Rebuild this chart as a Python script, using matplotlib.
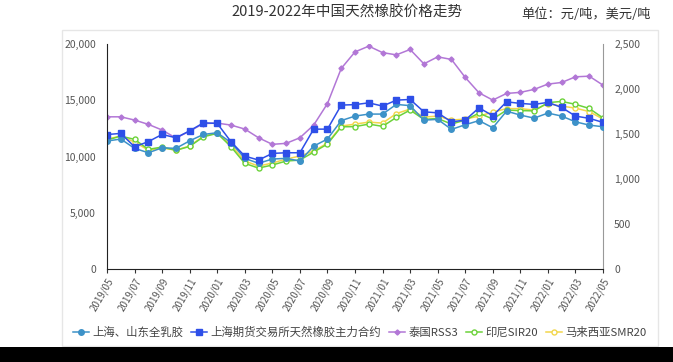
import matplotlib
matplotlib.use("Agg")
import matplotlib.pyplot as plt
from matplotlib.patches import Rectangle
import numpy as np

plt.rcParams['font.family'] = ['Noto Sans CJK SC', 'DejaVu Sans']

# ------------------ DATA ------------------
months = [f"{y}/{m:02d}" for y in range(2019, 2023) for m in range(1, 13)]
months = months[months.index("2019/05"):months.index("2022/05") + 1]

# 上海、山东全乳胶 (元/吨, left axis)
sh_sd = [11380, 11560, 10730, 10340, 10780, 10730, 11400, 11970, 12120, 11240,
         9840, 9400, 9780, 9840, 9600, 10930, 11560, 13200, 13600, 13780,
         13780, 14640, 14530, 13240, 13310, 12420, 12830, 13200, 12560, 14040,
         13690, 13420, 13870, 13600, 13090, 12800, 12650]
# 上海期货交易所天然橡胶主力合约 (元/吨, left axis)
shfe = [11960, 12060, 10870, 11330, 11970, 11670, 12290, 13000, 12950, 11320,
        10040, 9690, 10280, 10340, 10340, 12440, 12440, 14580, 14620, 14780,
        14490, 15020, 15080, 13980, 13890, 13090, 13240, 14340, 13630, 14870,
        14730, 14640, 14820, 14370, 13600, 13400, 13040]
# 泰国RSS3 (美元/吨, right axis)
rss3 = [1692, 1692, 1656, 1608, 1545, 1456, 1533, 1617, 1622, 1600,
        1556, 1459, 1386, 1397, 1459, 1600, 1839, 2230, 2414, 2478,
        2406, 2381, 2441, 2281, 2359, 2330, 2130, 1959, 1878, 1952,
        1964, 1997, 2056, 2074, 2137, 2144, 2044]
# 印尼SIR20 (美元/吨, right axis)
sir20 = [1433, 1478, 1441, 1330, 1356, 1319, 1363, 1470, 1508, 1359,
         1174, 1122, 1156, 1200, 1211, 1300, 1389, 1581, 1583, 1611,
         1586, 1685, 1767, 1663, 1674, 1611, 1656, 1733, 1667, 1767,
         1761, 1758, 1850, 1863, 1831, 1785, 1680]
# 马来西亚SMR20 (美元/吨, right axis)
smr20 = [1444, 1478, 1411, 1322, 1344, 1322, 1367, 1478, 1511, 1378,
         1200, 1144, 1178, 1222, 1256, 1311, 1400, 1589, 1611, 1633,
         1622, 1728, 1778, 1689, 1700, 1656, 1667, 1700, 1744, 1783,
         1783, 1767, 1839, 1811, 1789, 1750, 1667]

x = np.arange(len(months))

# ------------------ PLOT ------------------
fig = plt.figure(figsize=(6.73, 3.62), dpi=100)
fig.patches.append(Rectangle((0.092, 0.045), 0.885, 0.873, transform=fig.transFigure,
                             fill=False, edgecolor='#e6e6e6', linewidth=1.0))
fig.patches.append(Rectangle((0, 0), 1, 0.042, transform=fig.transFigure,
                             facecolor='black', edgecolor='none'))

ax = fig.add_axes([0.159, 0.257, 0.737, 0.621])
ax2 = ax.twinx()
ax.set_zorder(ax2.get_zorder() + 1)
ax.patch.set_visible(False)

lw = 1.1
l3, = ax2.plot(x, rss3, color='#b277d6', marker='D', markersize=2.6, lw=lw, label='泰国RSS3')
l5, = ax2.plot(x, smr20, color='#f2d64b', marker='o', markersize=3.6, mfc='white', lw=lw,
               label='马来西亚SMR20')
l4, = ax2.plot(x, sir20, color='#6cd23a', marker='o', markersize=3.6, mfc='white', lw=lw,
               label='印尼SIR20')
l1, = ax.plot(x, sh_sd, color='#3d92c8', marker='o', markersize=4, lw=lw, label='上海、山东全乳胶')
l2, = ax.plot(x, shfe, color='#2e4fe8', marker='s', markersize=4, lw=lw,
              label='上海期货交易所天然橡胶主力合约')

ax.set_xlim(0, len(months) - 1)
ax.set_ylim(0, 20000)
ax2.set_ylim(0, 2500)
ax.set_yticks(range(0, 20001, 5000))
ax.set_yticklabels([f"{v:,}" for v in range(0, 20001, 5000)])
ax2.set_yticks(range(0, 2501, 500))
ax2.set_yticklabels([f"{v:,}" for v in range(0, 2501, 500)])

ax.set_xticks(x[::2])
ax.set_xticklabels(months[::2], rotation=60, ha='right', rotation_mode='anchor',
                   fontsize=7, color='#555555')
ax.tick_params(axis='x', length=3, width=0.8, color='#333333', pad=2)
ax.tick_params(axis='y', length=0, labelsize=7.5, labelcolor='#555555', pad=8)
ax2.tick_params(axis='y', length=0, labelsize=7.5, labelcolor='#555555', pad=8)

for a in (ax, ax2):
    a.spines['top'].set_visible(False)
ax.spines['right'].set_visible(False)
ax2.spines['left'].set_visible(False)
ax2.spines['bottom'].set_visible(False)
ax.spines['left'].set_color('#222222')
ax.spines['bottom'].set_color('#222222')
ax2.spines['right'].set_color('#999999')

fig.text(0.515, 0.965, '2019-2022年中国天然橡胶价格走势', ha='center', va='center',
         fontsize=10.5, color='#333333')
fig.text(0.967, 0.96, '单位：元/吨，美元/吨', ha='right', va='center',
         fontsize=9.5, color='#333333')

fig.legend(handles=[l1, l2, l3, l4, l5], loc='center', bbox_to_anchor=(0.535, 0.083),
           ncol=5, frameon=False, fontsize=8.2, handlelength=1.4, handletextpad=0.3,
           columnspacing=0.7, labelcolor='#444444')

fig.savefig('out.png', dpi=100)
